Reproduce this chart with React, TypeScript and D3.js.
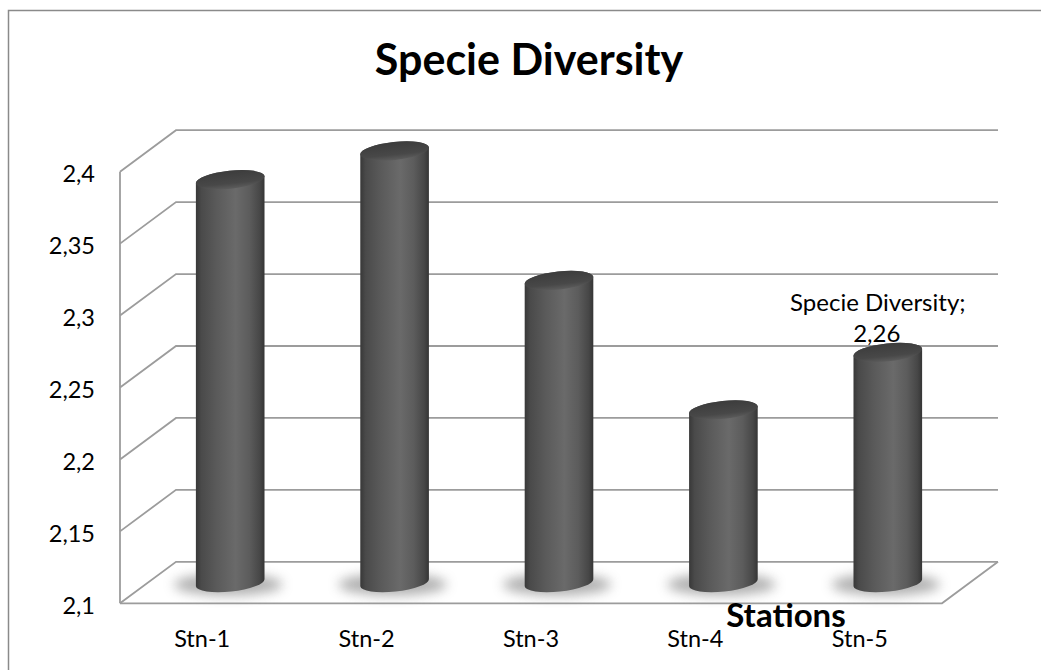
import React from "react";
import * as d3 from "d3";

// Chart data
const stations = ["Stn-1", "Stn-2", "Stn-3", "Stn-4", "Stn-5"];
const diversity = [2.38, 2.4, 2.31, 2.22, 2.26];
const yTicks = [2.1, 2.15, 2.2, 2.25, 2.3, 2.35, 2.4];
const seriesName = "Specie Diversity";
const chartTitle = "Specie Diversity";
const xAxisTitle = "Stations";
const labelledPoint = 4;

const W = 1041;
const H = 670;
const FONT = "Lato, 'Open Sans', sans-serif";

// 3D box: front plane plus depth offset toward the back wall
const DX = 56;
const DY = 41.5;
const GRID = "#9c9c9c";

const x = d3.scaleBand<string>().domain(stations).range([120, 942]);
const y = d3.scaleLinear().domain([2.1, 2.4]).range([603.3, 171.7]);

const locale = d3.formatLocale({
  decimal: ",",
  thousands: ".",
  grouping: [3],
  currency: ["", ""],
});
const fmt = locale.format(".2~f");

// Cylinder geometry
const RX = 34.5;
const RY = 9;
const TILT = -6;
const EX = RX * Math.cos((TILT * Math.PI) / 180);
const EY = RX * Math.sin((TILT * Math.PI) / 180);

function cylinderBody(cx: number, yTop: number, yBot: number) {
  const p = d3.path();
  p.moveTo(cx - EX, yTop - EY);
  p.lineTo(cx - EX, yBot - EY);
  return (
    p.toString() +
    ` A ${RX} ${RY} ${TILT} 0 0 ${cx + EX} ${yBot + EY}` +
    ` L ${cx + EX} ${yTop + EY}` +
    ` A ${RX} ${RY} ${TILT} 0 0 ${cx - EX} ${yTop - EY} Z`
  );
}

export default function App() {
  const y0 = y.domain()[0];
  const yTopTick = y.domain()[1];
  const frontLeft = x.range()[0];
  const frontRight = x.range()[1];
  const backBase = y(y0) - DY / 2;

  return (
    <svg
      width={W}
      height={H}
      style={{ position: "absolute", left: 0, top: 0, background: "#fff" }}
    >
      <defs>
        <linearGradient id="body" x1="0" x2="1" y1="0" y2="0">
          <stop offset="0%" stopColor="#383838" />
          <stop offset="8%" stopColor="#4a4a4a" />
          <stop offset="30%" stopColor="#5a5a5a" />
          <stop offset="58%" stopColor="#6a6a6a" />
          <stop offset="78%" stopColor="#5c5c5c" />
          <stop offset="93%" stopColor="#474747" />
          <stop offset="100%" stopColor="#353535" />
        </linearGradient>
        <linearGradient id="top" x1="0" x2="0" y1="0" y2="1">
          <stop offset="0%" stopColor="#3c3c3c" />
          <stop offset="70%" stopColor="#484848" />
          <stop offset="100%" stopColor="#5c5c5c" />
        </linearGradient>
        <filter id="soft" x="-50%" y="-100%" width="200%" height="300%">
          <feGaussianBlur stdDeviation="6" />
        </filter>
      </defs>

      {/* outer chart border */}
      <rect x={8.5} y={10.5} width={W} height={H} fill="none" stroke="#8a8a8a" strokeWidth={1.5} />

      {/* title */}
      <text x={529} y={75} textAnchor="middle" fontFamily={FONT} fontWeight="bold" fontSize={43}>
        {chartTitle}
      </text>

      {/* side wall and back wall gridlines */}
      <g stroke={GRID} strokeWidth={1.8} fill="none">
        {yTicks.map((t) => (
          <polyline
            key={t}
            points={`${frontLeft},${y(t)} ${frontLeft + DX},${y(t) - DY} ${frontRight + DX},${y(t) - DY}`}
          />
        ))}
        <line x1={frontLeft} x2={frontLeft} y1={y(yTopTick)} y2={y(y0)} />
        {/* floor */}
        <polyline
          points={`${frontLeft},${y(y0)} ${frontRight},${y(y0)} ${frontRight + DX},${y(y0) - DY}`}
        />
      </g>

      {/* y tick labels */}
      {yTicks.map((t) => (
        <text key={t} x={95} y={y(t) + 10.5} textAnchor="end" fontFamily={FONT} fontSize={23.5} fill="#000">
          {fmt(t)}
        </text>
      ))}

      {/* shadows on the floor */}
      {stations.map((s) => {
        const cx = (x(s) as number) + x.bandwidth() / 2 + DX / 2;
        return (
          <ellipse key={s} cx={cx - 2} cy={backBase + 2} rx={54} ry={11} fill="#8e8e8e" opacity={0.7} filter="url(#soft)" />
        );
      })}

      {/* cylinders */}
      {stations.map((s, i) => {
        const cx = (x(s) as number) + x.bandwidth() / 2 + DX / 2;
        const yTop = y(diversity[i]) - DY / 2;
        return (
          <g key={s}>
            <path d={cylinderBody(cx, yTop, backBase)} fill="url(#body)" />
            <ellipse
              cx={cx}
              cy={yTop}
              rx={RX}
              ry={RY}
              transform={`rotate(${TILT},${cx},${yTop})`}
              fill="url(#top)"
            />
          </g>
        );
      })}

      {/* data label */}
      {(() => {
        const s = stations[labelledPoint];
        const cx = (x(s) as number) + x.bandwidth() / 2 + DX / 2;
        const yTop = y(diversity[labelledPoint]) - DY / 2;
        return (
          <text fontFamily={FONT} fontSize={24} textAnchor="middle" fill="#000">
            <tspan x={cx - 10} y={yTop - 41}>{`${seriesName};`}</tspan>
            <tspan x={cx - 11} y={yTop - 10}>{fmt(diversity[labelledPoint])}</tspan>
          </text>
        );
      })()}

      {/* category labels */}
      {stations.map((s) => (
        <text key={s} x={(x(s) as number) + x.bandwidth() / 2} y={646.5} textAnchor="middle" fontFamily={FONT} fontSize={23.5} fill="#000">
          {s}
        </text>
      ))}

      {/* axis title */}
      <text x={786} y={626.5} textAnchor="middle" fontFamily={FONT} fontWeight="bold" fontSize={33} fill="#000">
        {xAxisTitle}
      </text>
    </svg>
  );
}
